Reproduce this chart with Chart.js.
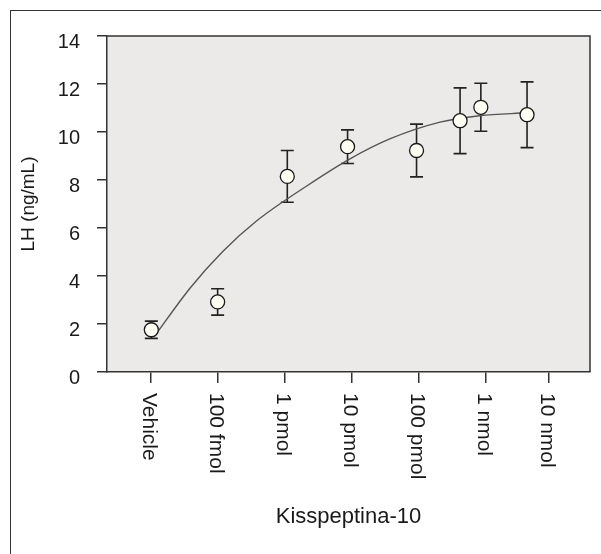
<!DOCTYPE html>
<html>
<head>
<meta charset="utf-8">
<script src="https://cdn.jsdelivr.net/npm/chart.js@4.4.1/dist/chart.umd.min.js"></script>
<style>
    body { margin:0; background:#fff; }
    #holder { position:relative; width:601px; height:554px; overflow:hidden; }
    #frame { position:absolute; left:10px; top:10px; width:640px; height:640px; border:1px solid #333; box-sizing:border-box; }
    #lh { position:absolute; left:0; top:0; }
</style>
</head>
<body>
<div id="holder">
    <div id="frame"></div>
    <canvas id="lh" width="601" height="554"></canvas>
</div>
<script>
// dose groups (x in dose steps, Vehicle = 0)
let doses = ["Vehicle", "100 fmol", "1 pmol", "10 pmol", "100 pmol", "1 nmol", "10 nmol"]
let dosePos = [0, 1, 2, 3, 4, 5, 5.94]

// measured groups
let groupPos = [0.01, 1.0, 2.04, 2.94, 3.97, 4.62, 4.93, 5.62]
let lhMean = [1.76, 2.92, 8.15, 9.39, 9.23, 10.47, 11.03, 10.72]
let lhSem = [0.36, 0.55, 1.08, 0.70, 1.10, 1.37, 1.00, 1.37]

// fitted curve
let fitX = [0.06, 0.59, 1.08, 1.58, 2.33, 2.97, 3.57, 4.32, 4.91, 5.62]
let fitY = [1.50, 3.50, 5.03, 6.29, 7.75, 8.87, 9.71, 10.41, 10.68, 10.80]

let yTicks = [0, 2, 4, 6, 8, 10, 12, 14]

let ink = "#1a1a1a"
let font = "'Liberation Sans', Arial, Helvetica, sans-serif"

let plotBox = {
    id: "plotBox",
    beforeDraw(chart) {
        let a = chart.chartArea
        let ctx = chart.ctx
        ctx.save()
        ctx.fillStyle = "#ebeae8"
        ctx.fillRect(a.left, a.top, a.right - a.left, a.bottom - a.top)
        ctx.restore()
    },
    afterDraw(chart) {
        let a = chart.chartArea
        let ctx = chart.ctx
        ctx.save()
        ctx.strokeStyle = "#333"
        ctx.lineWidth = 1.5
        ctx.beginPath()
        ctx.moveTo(a.left, a.top)
        ctx.lineTo(a.right, a.top)
        ctx.lineTo(a.right, a.bottom)
        ctx.stroke()

        // rotated dose labels, reading downwards
        let xs = chart.scales.x
        ctx.fillStyle = ink
        ctx.font = "21px " + font
        ctx.textAlign = "left"
        ctx.textBaseline = "middle"
        doses.forEach(function(d, i){
            let px = xs.getPixelForValue(dosePos[i])
            ctx.save()
            ctx.translate(px - 1.5, 393)
            ctx.rotate(Math.PI / 2)
            ctx.fillText(d, 0, 0)
            ctx.restore()
        })
        ctx.restore()
    }
}

let errorBars = {
    id: "errorBars",
    beforeDatasetsDraw(chart) {
        let xs = chart.scales.x
        let ys = chart.scales.y
        let ctx = chart.ctx
        ctx.save()
        ctx.strokeStyle = "#222"
        ctx.lineWidth = 1.6
        groupPos.forEach(function(g, i){
            let px = xs.getPixelForValue(g)
            let hi = ys.getPixelForValue(lhMean[i] + lhSem[i])
            let lo = ys.getPixelForValue(lhMean[i] - lhSem[i])
            ctx.beginPath()
            ctx.moveTo(px, hi)
            ctx.lineTo(px, lo)
            ctx.moveTo(px - 6.5, hi)
            ctx.lineTo(px + 6.5, hi)
            ctx.moveTo(px - 6.5, lo)
            ctx.lineTo(px + 6.5, lo)
            ctx.stroke()
        })
        ctx.restore()
    }
}

let chart = new Chart(
    document.querySelector("#lh"),
    {
        type: "scatter",
        data: {
            datasets: [
                {
                    label: "LH",
                    data: groupPos.map(function(g, i){ return {x: g, y: lhMean[i]} }),
                    pointRadius: 7,
                    pointHoverRadius: 7,
                    pointBackgroundColor: "#fffff4",
                    pointBorderColor: ink,
                    pointBorderWidth: 1.3
                },
                {
                    label: "fit",
                    type: "line",
                    data: fitX.map(function(x, i){ return {x: x, y: fitY[i]} }),
                    showLine: true,
                    borderColor: "#555",
                    borderWidth: 1.4,
                    pointRadius: 0,
                    cubicInterpolationMode: "monotone",
                    fill: false
                }
            ]
        },
        options: {
            responsive: false,
            animation: false,
            layout: { padding: { top: 36, right: 11, left: 0, bottom: 0 } },
            plugins: {
                legend: { display: false },
                tooltip: { enabled: false }
            },
            scales: {
                x: {
                    type: "linear",
                    min: -0.652,
                    max: 6.56,
                    afterBuildTicks: function(scale){
                        scale.ticks = dosePos.map(function(v){ return {value: v} })
                    },
                    afterFit: function(scale){ scale.height = 182 },
                    grid: { drawOnChartArea: false, drawTicks: true, tickLength: 11, color: "#333", lineWidth: 1.5 },
                    border: { display: true, color: "#333", width: 1.5 },
                    ticks: { display: false },
                    title: {
                        display: true,
                        text: "Kisspeptina-10",
                        color: ink,
                        font: { family: font, size: 22 },
                        padding: { top: 0, bottom: 24 }
                    }
                },
                y: {
                    min: 0,
                    max: 14,
                    afterBuildTicks: function(scale){
                        scale.ticks = yTicks.map(function(v){ return {value: v} })
                    },
                    afterFit: function(scale){ scale.width = 107 },
                    grid: { drawOnChartArea: false, drawTicks: true, tickLength: 10, color: "#333", lineWidth: 1.5 },
                    border: { display: true, color: "#333", width: 1.5 },
                    ticks: {
                        color: ink,
                        padding: 17,
                        labelOffset: 6.7,
                        font: { family: font, size: 20 }
                    },
                    title: {
                        display: true,
                        text: "LH (ng/mL)",
                        color: ink,
                        font: { family: font, size: 19 },
                        padding: { top: 17, bottom: 0 }
                    }
                }
            }
        },
        plugins: [plotBox, errorBars]
    }
)
</script>
</body>
</html>
